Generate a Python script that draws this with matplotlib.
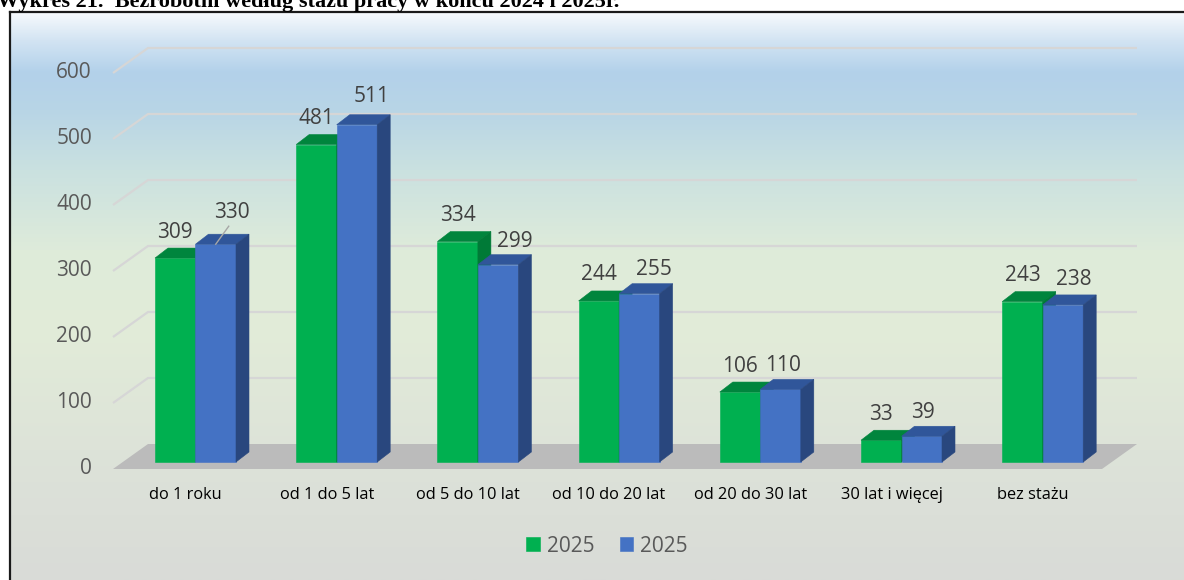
import numpy as np
import matplotlib
matplotlib.use("Agg")
import matplotlib.pyplot as plt
from matplotlib.patches import Polygon
from matplotlib.lines import Line2D
from matplotlib.colors import to_rgb

# ---------------- data ----------------
categories = ["do 1 roku", "od 1 do 5 lat", "od 5 do 10 lat", "od 10 do 20 lat",
              "od 20 do 30 lat", "30 lat i więcej", "bez stażu"]
values_a = [309, 481, 334, 244, 106, 33, 243]
values_b = [330, 511, 299, 255, 110, 39, 238]
series_labels = ["2025", "2025"]
y_ticks = [0, 100, 200, 300, 400, 500, 600]
title = "Wykres 21.  Bezrobotni według stażu pracy w końcu 2024 i 2025r."

# ---------------- layout (pixels) ----------------
W, H = 1184, 580
X0_PX, X_STEP = 195.5, 141.2    # first group centre, px per category
Y0_PX, Y_PX = 462.0, 0.66       # bar base, px per unit

fig = plt.figure(figsize=(W / 100, H / 100), dpi=100)
ax = fig.add_axes([0, 0, 1, 1])
ax.set_xlim(-X0_PX / X_STEP, (W - X0_PX) / X_STEP)
ax.set_ylim((Y0_PX - H) / Y_PX, Y0_PX / Y_PX)
ax.axis("off")


def dx(px):
    return px / X_STEP


def dy(px):
    return px / Y_PX


def px2x(px):
    return (px - X0_PX) / X_STEP


def py2y(py):
    return (Y0_PX - py) / Y_PX


FONT = ["Open Sans", "DejaVu Sans"]

# ---------------- background gradient ----------------
stops = [(12, "#F7FAFD"), (40, "#D3E4F3"), (72, "#B3D1EA"), (110, "#B8D5E6"),
         (170, "#CAE1E0"), (250, "#DEEBDA"), (330, "#E2ECD8"), (450, "#DDE3D9"),
         (580, "#D9DBD7")]
ys = np.arange(12, 581)
sp = np.array([s[0] for s in stops], float)
cols = np.array([to_rgb(s[1]) for s in stops])
grad = np.stack([np.interp(ys, sp, cols[:, k]) for k in range(3)], axis=-1)[:, None, :]
ax.imshow(grad, extent=(px2x(10), px2x(W), py2y(H), py2y(12)),
          aspect="auto", zorder=0, interpolation="bilinear")

# ---------------- frame + title ----------------
fig.add_artist(Line2D([10 / W, 10 / W], [0, 1 - 12 / H], color="#1a1a1a", lw=1.6))
fig.add_artist(Line2D([10 / W, 1], [1 - 12 / H, 1 - 12 / H], color="#1a1a1a", lw=1.6))
fig.text(-3 / W, 1 - 7 / H, title, fontfamily="Liberation Serif", fontweight="bold",
         fontsize=16, va="baseline", ha="left", color="black")

# ---------------- 3D walls / floor ----------------
n = len(categories)
x = np.arange(n)
FRONT_DY, BACK_DY = -7, 18
xl_f, xl_b = px2x(113), px2x(148)
xr_f, xr_b = px2x(1102), px2x(1137)

floor = Polygon([(xl_f, dy(FRONT_DY)), (xl_b, dy(BACK_DY)), (xr_b, dy(BACK_DY)),
                 (xr_f, dy(FRONT_DY))], closed=True, facecolor="#BBBBBB",
                edgecolor="none", zorder=1)
ax.add_patch(floor)

for v in y_ticks[1:]:
    ax.plot([xl_f, xl_b, xr_b], [v + dy(FRONT_DY), v + dy(BACK_DY), v + dy(BACK_DY)],
            color="#D6D6D6", lw=1.6, zorder=1, solid_capstyle="butt")

for v in y_ticks:
    ax.text(px2x(92), v + dy(FRONT_DY), str(v), ha="right", va="center",
            fontsize=15, color="#595959", family=FONT)

# ---------------- bars ----------------
bw = dx(40.5)
ddx, ddy = dx(13), dy(10)
xa = x - bw / 2
xb = x + bw / 2

series = [
    (xa, values_a, "#00B050", "#00853D", "#007A37", 3),
    (xb, values_b, "#4472C4", "#30569A", "#29477E", 4),
]
containers = []
for xs, vals, c_front, c_top, c_side, z in series:
    cont = ax.bar(xs, vals, width=bw, color=c_front, edgecolor=c_front,
                  linewidth=0.4, zorder=z)
    containers.append(cont)
    for xc, v in zip(xs, vals):
        x0, x1 = xc - bw / 2, xc + bw / 2
        ax.add_patch(Polygon([(x0, v), (x0 + ddx, v + ddy), (x1 + ddx, v + ddy), (x1, v)],
                             closed=True, facecolor=c_top, edgecolor=c_top, lw=0.4, zorder=z))
        ax.add_patch(Polygon([(x1, 0), (x1, v), (x1 + ddx, v + ddy), (x1 + ddx, ddy)],
                             closed=True, facecolor=c_side, edgecolor=c_side, lw=0.4, zorder=z))

# ---------------- value labels ----------------
green_dy = 26
blue_nudge = [(16, 32), (15, 28), (17, 23), (15, 24), (2, 24), (1, 24), (11, 25)]
for xc, v in zip(xa, values_a):
    ax.text(xc, v + dy(green_dy), str(v), ha="center", va="center",
            fontsize=15, color="#404040", family=FONT, zorder=6)
for (xc, v), (nx, ny) in zip(zip(xb, values_b), blue_nudge):
    ax.text(xc + dx(nx), v + dy(ny), str(v), ha="center", va="center",
            fontsize=15, color="#404040", family=FONT, zorder=6)
# leader line for the first blue label
ax.plot([xb[0], xb[0] + dx(13)], [values_b[0], values_b[0] + dy(18)],
        color="#A6A6A6", lw=1.0, zorder=6)

# ---------------- category labels ----------------
for xc, cat in zip(x, categories):
    ax.text(xc - dx(10), dy(-33), cat, ha="center", va="center",
            fontsize=11.8, color="#000000", family=FONT)

# ---------------- legend ----------------
leg = ax.legend(containers, series_labels, loc="center",
                bbox_to_anchor=(607 / W, 1 - 546 / H), ncol=2, frameon=False,
                handlelength=0.65, handleheight=0.65, handletextpad=0.35,
                columnspacing=1.2, prop={"family": FONT, "size": 15})
for t in leg.get_texts():
    t.set_color("#595959")

fig.savefig("out.png", dpi=100)
